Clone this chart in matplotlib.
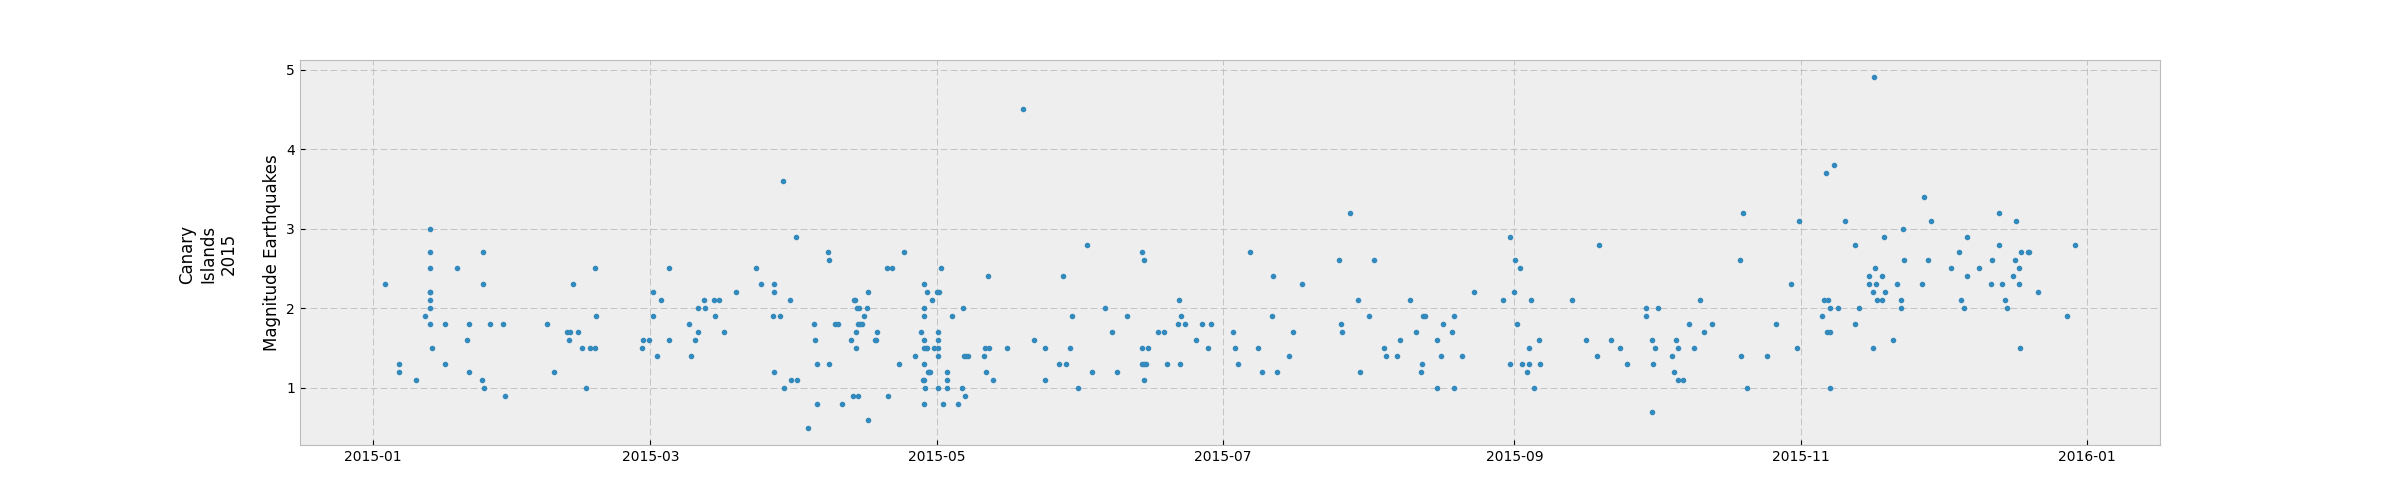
import pandas as pd
import matplotlib
matplotlib.use("Agg")
import matplotlib.pyplot as plt

# event time as days after 2015-01-01
day_of_year = [
    2.4, 5.4, 5.4, 9.0, 12.0, 12.0, 12.0, 12.0, 12.1, 12.0, 12.0, 11.1, 12.0, 12.4,
    15.2, 15.2, 17.8, 20.3, 19.9, 20.3, 23.3, 23.3, 23.1, 23.5, 24.8, 27.6, 28.0,
    37.1, 38.4, 41.2, 42.0, 41.6, 42.5, 43.5, 44.4, 45.2, 46.1, 47.2, 47.2, 47.4,
    57.2, 57.4, 58.7, 59.5, 59.5, 60.4, 61.2, 62.9, 62.9, 67.2, 67.6, 68.5, 69.1,
    69.1, 70.4, 70.6, 72.5, 72.7, 73.6, 74.6, 77.2, 81.5, 82.5, 85.3, 85.3, 85.1,
    85.3, 86.6,
    87.2, 87.4, 88.7, 88.9, 90.0, 90.2, 92.5, 93.8, 94.0, 94.5, 94.5, 96.8, 97.0,
    97.0, 98.3, 98.9, 99.8, 101.7, 102.1, 102.4, 102.6, 102.8, 102.8, 103.0, 103.4,
    103.2, 103.6, 104.0, 103.2, 104.5, 105.1, 105.3, 105.3, 106.8, 107.0, 107.2,
    109.4, 110.4, 109.6, 111.9, 113.0, 115.3, 116.6, 117.3, 117.3, 117.3, 117.3,
    117.3, 117.7, 117.9, 117.3, 117.1, 117.3, 117.5, 117.3, 117.9, 118.1, 118.3,
    118.5, 119.0, 119.4, 120.0, 120.5, 120.2, 120.2, 120.2, 120.2, 120.2, 120.9,
    121.3, 122.2, 122.2, 122.2, 123.2, 124.5, 125.4, 125.6, 125.8, 126.2, 126.6,
    126.0, 130.0, 130.3, 131.1, 130.5, 130.9, 132.0, 134.9,
    138.4, 140.7, 143.0, 143.0, 146.0, 146.9, 147.5, 148.4, 148.8, 150.1, 152.0,
    153.1, 155.8, 157.3, 158.4, 160.5, 163.7, 164.1, 163.7, 165.0, 163.7, 164.1,
    164.5, 164.1, 167.1, 168.4, 169.0, 171.6, 172.0, 171.4, 172.9, 171.8, 175.2,
    176.5, 177.8, 178.4, 183.1, 183.5, 184.2, 186.7, 188.4, 189.2,
    191.4, 191.6, 192.5, 195.0, 195.9, 197.8, 205.7, 206.1, 206.3, 208.0, 209.7,
    210.2, 212.1, 213.1, 215.3, 215.7, 218.0, 218.7, 220.8, 222.1, 223.2, 223.4,
    223.6, 224.0, 226.6, 226.6, 227.4, 227.8, 229.8, 230.2, 230.2, 231.9, 234.5,
    240.6, 242.1, 242.1, 243.0, 243.2, 243.6, 244.3, 244.7, 245.7, 246.2, 246.2,
    246.6, 247.2, 248.3, 248.5, 255.3, 258.3, 260.7, 261.1, 263.6, 265.4, 267.1,
    271.1, 271.1, 272.4, 272.4, 273.0, 272.6, 273.5, 276.6, 277.1, 277.5, 277.9,
    277.9, 279.0, 280.3, 281.3, 282.6, 283.5, 285.2,
    291.1, 291.3, 291.8, 292.6, 296.9, 298.8, 302.0, 303.1, 303.7, 308.6, 309.0,
    309.7, 309.3, 309.5, 310.3, 310.3, 310.3, 311.0, 312.0, 313.5, 315.6, 315.6,
    316.5, 318.6, 318.6, 319.3, 319.3, 319.7, 319.9, 320.1, 320.3, 321.4, 321.4,
    321.8, 322.0, 323.7, 324.4, 325.4, 325.4, 325.7, 325.9, 329.9, 330.3, 331.2,
    331.8, 335.9, 337.6, 338.2, 338.7, 339.5, 339.5, 341.9,
    344.6, 344.8, 346.3, 346.3, 346.8, 347.6, 348.0, 349.1, 349.7, 349.9, 350.4,
    350.4, 350.6, 351.0, 352.4, 352.6, 354.6, 360.8, 362.5,
]

magnitude = [
    2.3, 1.3, 1.2, 1.1, 3.0, 2.7, 2.5, 2.2, 2.2, 2.1, 2.0, 1.9, 1.8, 1.5,
    1.8, 1.3, 2.5, 1.8, 1.6, 1.2, 2.7, 2.3, 1.1, 1.0, 1.8, 1.8, 0.9,
    1.8, 1.2, 1.7, 1.7, 1.6, 2.3, 1.7, 1.5, 1.0, 1.5, 1.5, 2.5, 1.9,
    1.5, 1.6, 1.6, 2.2, 1.9, 1.4, 2.1, 2.5, 1.6, 1.8, 1.4, 1.6, 1.7,
    2.0, 2.1, 2.0, 2.1, 1.9, 2.1, 1.7, 2.2, 2.5, 2.3, 2.3, 2.2, 1.9,
    1.2, 1.9,
    3.6, 1.0, 2.1, 1.1, 2.9, 1.1, 0.5, 1.8, 1.6, 1.3, 0.8, 2.7, 2.6,
    1.3, 1.8, 1.8, 0.8, 1.6, 0.9, 2.1, 2.1, 1.7, 1.5, 2.0, 2.0,
    1.8, 1.8, 1.8, 0.9, 1.9, 2.0, 2.2, 0.6, 1.6, 1.6, 1.7,
    2.5, 2.5, 0.9, 1.3, 2.7, 1.4, 1.7, 2.3, 2.0, 1.9, 1.6,
    1.5, 1.5, 1.5, 1.3, 1.1, 1.1, 1.0, 0.8, 2.2, 1.2, 1.2,
    1.2, 2.1, 1.5, 2.2, 2.2, 1.7, 1.6, 1.5, 1.4, 1.0, 2.5,
    0.8, 1.2, 1.1, 1.0, 1.9, 0.8, 1.0, 2.0, 1.4, 1.4, 1.4,
    0.9, 1.4, 1.5, 1.5, 1.2, 2.4, 1.1, 1.5,
    4.5, 1.6, 1.5, 1.1, 1.3, 2.4, 1.3, 1.5, 1.9, 1.0, 2.8,
    1.2, 2.0, 1.7, 1.2, 1.9, 2.7, 2.6, 1.5, 1.5, 1.3, 1.3,
    1.3, 1.1, 1.7, 1.7, 1.3, 2.1, 1.9, 1.8, 1.8, 1.3, 1.6,
    1.8, 1.5, 1.8, 1.7, 1.5, 1.3, 2.7, 1.5, 1.2,
    1.9, 2.4, 1.2, 1.4, 1.7, 2.3, 2.6, 1.8, 1.7, 3.2, 2.1,
    1.2, 1.9, 2.6, 1.5, 1.4, 1.4, 1.6, 2.1, 1.7, 1.2, 1.3,
    1.9, 1.9, 1.6, 1.0, 1.4, 1.8, 1.7, 1.9, 1.0, 1.4, 2.2,
    2.1, 2.9, 1.3, 2.2, 2.6, 1.8, 2.5, 1.3, 1.2, 1.5, 1.3,
    2.1, 1.0, 1.6, 1.3, 2.1, 1.6, 1.4, 2.8, 1.6, 1.5, 1.3,
    2.0, 1.9, 1.6, 0.7, 1.5, 1.3, 2.0, 1.4, 1.2, 1.6, 1.5,
    1.1, 1.1, 1.8, 1.5, 2.1, 1.7, 1.8,
    2.6, 1.4, 3.2, 1.0, 1.4, 1.8, 2.3, 1.5, 3.1, 1.9, 2.1,
    2.1, 3.7, 1.7, 1.7, 2.0, 1.0, 3.8, 2.0, 3.1, 2.8, 1.8,
    2.0, 2.4, 2.3, 2.2, 1.5, 4.9, 2.5, 2.3, 2.1, 2.4, 2.1,
    2.9, 2.2, 1.6, 2.3, 2.1, 2.0, 3.0, 2.6, 2.3, 3.4, 2.6,
    3.1, 2.5, 2.7, 2.1, 2.0, 2.9, 2.4, 2.5,
    2.3, 2.6, 3.2, 2.8, 2.3, 2.1, 2.0, 2.4, 2.6, 3.1, 2.5,
    2.3, 1.5, 2.7, 2.7, 2.7, 2.2, 1.9, 2.8,
]

dates = pd.Timestamp("2015-01-01") + pd.to_timedelta(day_of_year, unit="D")

plt.style.use("bmh")
fig, ax = plt.subplots(figsize=(24, 5), dpi=100)
ax.plot(dates, magnitude, ".", color="#348ABD")
ax.set_ylabel("Magnitude Earthquakes")
ax.grid(True, color="#b2b2b2", linewidth=0.5, linestyle=(0, (10, 4.4)))
ax.tick_params(direction="in")
fig.text(0.0867, 0.492, "Canary\nIslands\n2015", rotation=90,
         ha="center", va="center", multialignment="center", fontsize=12)

fig.savefig("out.png", dpi=100)
